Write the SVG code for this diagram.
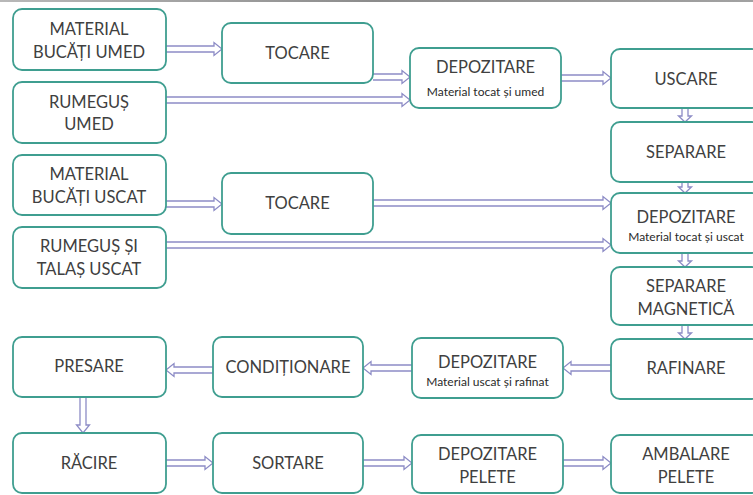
<svg xmlns="http://www.w3.org/2000/svg" width="753" height="495" viewBox="0 0 753 495">
<defs>
<linearGradient id="topline" x1="0" y1="0" x2="1" y2="0">
<stop offset="0" stop-color="#9a9a9a"/>
<stop offset="0.5" stop-color="#5a5a5a"/>
<stop offset="1" stop-color="#7a7a7a"/>
</linearGradient>
</defs>
<style>
.box{fill:#ffffff;stroke:#3f9e90;stroke-width:1.8}
.t{font-family:Lato,"Open Sans","Liberation Sans",sans-serif;font-size:16.5px;fill:#404040;text-anchor:middle}
.s{font-family:Lato,"Open Sans","Liberation Sans",sans-serif;font-size:12px;fill:#2a2a2a;text-anchor:middle}
.ar{fill:#ffffff;stroke:#8d8cc6;stroke-width:1.3;stroke-linejoin:miter}
</style>
<rect x="0" y="0" width="753" height="2" fill="url(#topline)" opacity="0.7"/>

<g id="connectors">
<path class="ar" d="M166 46 H214 V42.5 L222 49 L214 55.5 V52 H166"/>
<path class="ar" d="M373 74 H402 V70.5 L410 77 L402 83.5 V80 H373"/>
<path class="ar" d="M166 97 H402 V93.5 L410 100 L402 106.5 V103 H166"/>
<path class="ar" d="M561 75 H603 V71.5 L611 78 L603 84.5 V81 H561"/>
<path class="ar" d="M166 201 H214 V197.5 L222 204 L214 210.5 V207 H166"/>
<path class="ar" d="M373 200 H603 V196.5 L611 203 L603 209.5 V206 H373"/>
<path class="ar" d="M166 242 H603 V238.5 L611 245 L603 251.5 V248 H166"/>
<path class="ar" d="M611 365 H571 V361.5 L563 368 L571 374.5 V371 H611"/>
<path class="ar" d="M412 365 H371 V361.5 L363 368 L371 374.5 V371 H412"/>
<path class="ar" d="M213 367 H174 V363.5 L166 370 L174 376.5 V373 H213"/>
<path class="ar" d="M80 397 V425 H76.5 L83 433 L89.5 425 H86 V397"/>
<path class="ar" d="M682 108 V116 H678.5 L685 122 L691.5 116 H688 V108"/>
<path class="ar" d="M682 182 V187 H678.5 L685 193 L691.5 187 H688 V182"/>
<path class="ar" d="M682 253 V261 H678.5 L685 267 L691.5 261 H688 V253"/>
<path class="ar" d="M682 325 V333 H678.5 L685 339 L691.5 333 H688 V325"/>
<path class="ar" d="M166 460 H205 V456.5 L213 463 L205 469.5 V466 H166"/>
<path class="ar" d="M363 460 H404 V456.5 L412 463 L404 469.5 V466 H363"/>
<path class="ar" d="M563 460 H603 V456.5 L611 463 L603 469.5 V466 H563"/>
</g>

<g id="material-bucati-umed"><rect class="box" x="13" y="9" width="153" height="61" rx="9"/><text class="t" x="89" y="35">MATERIAL</text><text class="t" x="89" y="58">BUCĂȚI UMED</text></g>
<g id="tocare-1"><rect class="box" x="222" y="23" width="151" height="60" rx="9"/><text class="t" x="297.5" y="59">TOCARE</text></g>
<g id="rumegus-umed"><rect class="box" x="13" y="82" width="153" height="61" rx="9"/><text class="t" x="89" y="108">RUMEGUȘ</text><text class="t" x="89" y="130">UMED</text></g>
<g id="depozitare-1"><rect class="box" x="410" y="48" width="151" height="60" rx="9"/><text class="t" x="485.5" y="73">DEPOZITARE</text><text class="s" x="485.5" y="96">Material tocat și umed</text></g>
<g id="uscare"><rect class="box" x="611" y="49" width="150" height="59" rx="9"/><text class="t" x="686" y="85">USCARE</text></g>
<g id="separare"><rect class="box" x="611" y="122" width="150" height="60" rx="9"/><text class="t" x="686" y="158">SEPARARE</text></g>
<g id="material-bucati-uscat"><rect class="box" x="13" y="155" width="153" height="60" rx="9"/><text class="t" x="89" y="180">MATERIAL</text><text class="t" x="89" y="203">BUCĂȚI USCAT</text></g>
<g id="tocare-2"><rect class="box" x="222" y="173" width="151" height="61" rx="9"/><text class="t" x="297.5" y="209">TOCARE</text></g>
<g id="rumegus-talas-uscat"><rect class="box" x="13" y="227" width="153" height="61" rx="9"/><text class="t" x="89" y="252">RUMEGUȘ ȘI</text><text class="t" x="89" y="275">TALAȘ USCAT</text></g>
<g id="depozitare-2"><rect class="box" x="611" y="193" width="150" height="60" rx="9"/><text class="t" x="686" y="223">DEPOZITARE</text><text class="s" x="686" y="241">Material tocat și uscat</text></g>
<g id="separare-magnetica"><rect class="box" x="611" y="267" width="150" height="58" rx="9"/><text class="t" x="686" y="292">SEPARARE</text><text class="t" x="686" y="315">MAGNETICĂ</text></g>
<g id="rafinare"><rect class="box" x="611" y="339" width="150" height="60" rx="9"/><text class="t" x="686" y="374">RAFINARE</text></g>
<g id="depozitare-3"><rect class="box" x="412" y="338" width="151" height="60" rx="9"/><text class="t" x="487.5" y="368">DEPOZITARE</text><text class="s" x="487.5" y="386">Material uscat și rafinat</text></g>
<g id="conditionare"><rect class="box" x="213" y="337" width="150" height="60" rx="9"/><text class="t" x="288" y="373">CONDIȚIONARE</text></g>
<g id="presare"><rect class="box" x="13" y="337" width="153" height="60" rx="9"/><text class="t" x="89" y="372">PRESARE</text></g>
<g id="racire"><rect class="box" x="13" y="433" width="153" height="60" rx="9"/><text class="t" x="89" y="469">RĂCIRE</text></g>
<g id="sortare"><rect class="box" x="213" y="433" width="150" height="60" rx="9"/><text class="t" x="288" y="469">SORTARE</text></g>
<g id="depozitare-pelete"><rect class="box" x="412" y="435" width="151" height="58" rx="9"/><text class="t" x="487.5" y="460">DEPOZITARE</text><text class="t" x="487.5" y="483">PELETE</text></g>
<g id="ambalare-pelete"><rect class="box" x="611" y="435" width="150" height="58" rx="9"/><text class="t" x="686" y="460">AMBALARE</text><text class="t" x="686" y="483">PELETE</text></g>
</svg>
